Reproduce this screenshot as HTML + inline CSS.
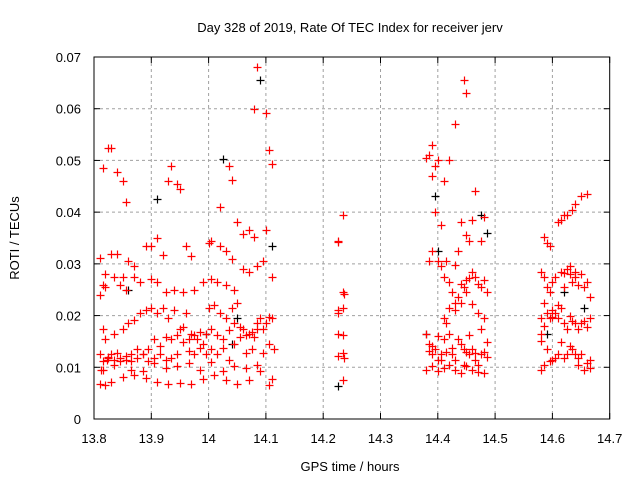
<!DOCTYPE html>
<html><head><meta charset="utf-8"><style>
html,body{margin:0;padding:0;background:#fff;}
svg{display:block;font-family:"Liberation Sans",sans-serif;}
</style></head><body>
<svg id="chart" width="640" height="480">
<text x="350" y="32" text-anchor="middle" font-size="13">Day 328 of 2019, Rate Of TEC Index for receiver jerv</text>
<text x="0" y="0" transform="translate(19,238) rotate(-90)" text-anchor="middle" font-size="13">ROTI / TECUs</text>
<text x="350" y="471" text-anchor="middle" font-size="13">GPS time / hours</text>
<g id="grid"></g><g id="ticks"></g><g id="marks"></g>
<rect x="94" y="57" width="515.7" height="362" fill="none" stroke="#000" stroke-width="1"/>
</svg>
<script>
const xTicks=[13.8,13.9,14,14.1,14.2,14.3,14.4,14.5,14.6,14.7];
const xTickLabels=["13.8","13.9","14","14.1","14.2","14.3","14.4","14.5","14.6","14.7"];
const yTicks=[0,0.01,0.02,0.03,0.04,0.05,0.06,0.07];
const yTickLabels=["0","0.01","0.02","0.03","0.04","0.05","0.06","0.07"];
// [time, roti] pairs
const cluster1High=[[13.815,0.0485],[13.825,0.0525],[13.83,0.0525],[13.84,0.0478],[13.85,0.046],[13.855,0.042],[13.93,0.046],[13.935,0.049],[13.945,0.0455],[13.95,0.0445],[14.02,0.041],[14.035,0.049],[14.04,0.0462],[14.08,0.060],[14.085,0.068],[14.1,0.0592],[14.105,0.052],[14.11,0.0493]];
const cluster1Mid=[[13.81,0.0312],[13.82,0.028],[13.83,0.032],[13.84,0.032],[13.85,0.0275],[13.86,0.0305],[13.87,0.0295],[13.89,0.0335],[13.9,0.0335],[13.91,0.035],[13.92,0.0318],[13.96,0.0335],[13.97,0.0315],[14,0.034],[14.005,0.0345],[14.02,0.0335],[14.03,0.0325],[14.04,0.031],[14.05,0.038],[14.06,0.0358],[14.07,0.0365],[14.08,0.0352],[14.1,0.0365],
[13.81,0.024],[13.815,0.026],[13.82,0.0255],[13.835,0.0275],[13.845,0.026],[13.855,0.025],[13.87,0.0275],[13.88,0.0265],[13.9,0.027],[13.91,0.0265],[13.925,0.0245],[13.94,0.025],[13.955,0.0245],[13.975,0.025],[13.99,0.0265],[14.005,0.027],[14.015,0.0265],[14.03,0.026],[14.045,0.025],[14.06,0.029],[14.07,0.0285],[14.085,0.0295],[14.095,0.0305],[14.11,0.0275]];
const cluster1Low=[[13.81,0.0125],[13.812,0.0095],[13.815,0.0175],[13.82,0.0155],[13.822,0.0115],[13.825,0.012],[13.83,0.0125],[13.835,0.0165],[13.84,0.0128],[13.845,0.0118],[13.85,0.0175],[13.855,0.0122],[13.86,0.0185],[13.865,0.0125],[13.87,0.0192],[13.875,0.0118],[13.88,0.0205],[13.885,0.0125],[13.89,0.021],[13.895,0.0135],[13.9,0.0215],[13.905,0.0118],[13.91,0.0205],[13.915,0.0142],[13.92,0.0215],[13.925,0.0115],[13.93,0.0195],[13.935,0.0155],[13.94,0.021],[13.945,0.0125],[13.95,0.0175],[13.955,0.0148],[13.96,0.0205],[13.965,0.0132],[13.97,0.0165],[13.975,0.0125],[13.98,0.0155],[13.985,0.0138],[13.99,0.0145],[13.995,0.0125],[14,0.0215],[14.005,0.0135],[14.01,0.022],[14.015,0.0125],[14.02,0.0205],[14.025,0.0138],[14.03,0.0195],[14.035,0.0115],[14.04,0.0215],[14.045,0.0145],[14.05,0.0225],[14.055,0.0158],[14.06,0.0175],[14.065,0.0128],[14.07,0.0165],[14.075,0.0135],[14.08,0.0158],[14.085,0.0175],[14.09,0.0195],[14.095,0.0128],[14.1,0.0185],[14.105,0.0145],[14.11,0.0195],[14.115,0.0135],
[13.815,0.0112],[13.825,0.0118],[13.835,0.0115],[13.845,0.0112],[13.855,0.0115],[13.865,0.0112],[13.875,0.0135],[13.885,0.0125],[13.895,0.0112],[13.905,0.0155],[13.915,0.0125],[13.925,0.0158],[13.935,0.0118],[13.945,0.0162],[13.955,0.0178],[13.965,0.0155],[13.975,0.0162],[13.985,0.0168],[13.995,0.0165],[14.005,0.0175],[14.015,0.0162],[14.025,0.0155],[14.035,0.0172],[14.045,0.0185],[14.055,0.0178],[14.065,0.0162],[14.075,0.0168],[14.085,0.0185],[14.095,0.0175],[14.105,0.0198],
[13.81,0.0068],[13.82,0.0065],[13.83,0.0072],[13.85,0.0082],[13.87,0.0085],[13.89,0.008],[13.91,0.0072],[13.93,0.0068],[13.95,0.007],[13.97,0.0068],[13.99,0.0078],[14.01,0.0085],[14.03,0.0075],[14.05,0.0068],[14.07,0.0075],[14.09,0.0092],[14.11,0.0078],
[13.815,0.0095],[13.835,0.0105],[13.865,0.0095],[13.885,0.0092],[13.905,0.0108],[13.925,0.0098],[13.945,0.0102],[13.965,0.0108],[13.985,0.0095],[14.005,0.011],[14.025,0.0092],[14.045,0.0102],[14.065,0.0098],[14.085,0.0105],[14.105,0.0065]];
const cluster2=[[14.225,0.0345],[14.226,0.0342],[14.235,0.0395],[14.235,0.0245],[14.237,0.0242],[14.225,0.021],[14.226,0.0205],[14.235,0.0215],[14.225,0.0165],[14.235,0.0162],[14.225,0.0122],[14.235,0.0128],[14.236,0.0118],[14.235,0.0075]];
const cluster3=[[14.39,0.053],[14.385,0.051],[14.38,0.0505],[14.395,0.049],[14.4,0.050],[14.41,0.046],[14.42,0.050],[14.43,0.057],[14.445,0.0655],[14.45,0.063],[14.39,0.047],[14.405,0.0375],[14.44,0.038],[14.465,0.044],[14.46,0.0385],[14.48,0.039],[14.395,0.040],[14.39,0.0325],[14.385,0.0305],[14.41,0.0275],[14.43,0.0298],[14.435,0.0325],[14.45,0.0355],[14.455,0.0345],[14.475,0.0345],
[14.4,0.0305],[14.405,0.0295],[14.415,0.0305],[14.42,0.0265],[14.425,0.0245],[14.43,0.0225],[14.435,0.0235],[14.44,0.0262],[14.445,0.0255],[14.45,0.0268],[14.455,0.0272],[14.46,0.0285],[14.465,0.0275],[14.47,0.0262],[14.475,0.0255],[14.48,0.0268],[14.485,0.0245],[14.41,0.0195],[14.415,0.0185],[14.42,0.0215],[14.43,0.021],[14.44,0.0225],[14.45,0.0245],[14.46,0.0222],[14.47,0.0205],[14.48,0.0195],
[14.38,0.0165],[14.385,0.0145],[14.39,0.0125],[14.395,0.0135],[14.4,0.016],[14.405,0.0115],[14.41,0.0155],[14.415,0.013],[14.42,0.0165],[14.425,0.0125],[14.43,0.0115],[14.435,0.0155],[14.44,0.0145],[14.445,0.0105],[14.45,0.013],[14.455,0.0125],[14.46,0.0135],[14.465,0.0115],[14.47,0.0105],[14.475,0.0125],[14.48,0.013],[14.485,0.012],
[14.38,0.0095],[14.39,0.0102],[14.4,0.0115],[14.41,0.0098],[14.42,0.0105],[14.43,0.0095],[14.44,0.0088],[14.45,0.0102],[14.46,0.0095],[14.47,0.009],[14.48,0.0088],[14.385,0.0132],[14.405,0.0125],[14.425,0.0138],[14.445,0.0135],[14.465,0.0128],[14.485,0.0148],[14.39,0.0142],[14.4,0.0092],[14.455,0.0162],[14.475,0.0175]];
const cluster4=[[14.585,0.0352],[14.59,0.034],[14.595,0.0335],[14.61,0.038],[14.615,0.0385],[14.62,0.0395],[14.625,0.0395],[14.635,0.0405],[14.64,0.0415],[14.65,0.0432],[14.66,0.0435],
[14.58,0.0285],[14.585,0.0275],[14.59,0.0255],[14.595,0.0245],[14.6,0.0265],[14.605,0.0275],[14.61,0.022],[14.615,0.0285],[14.62,0.0255],[14.625,0.029],[14.63,0.028],[14.635,0.0265],[14.64,0.0275],[14.645,0.026],[14.65,0.028],[14.655,0.0255],[14.66,0.0265],[14.665,0.0235],[14.62,0.0282],[14.63,0.0295],[14.64,0.0285],[14.585,0.0225],
[14.58,0.0195],[14.585,0.018],[14.59,0.0205],[14.595,0.0195],[14.6,0.021],[14.605,0.0205],[14.61,0.0195],[14.615,0.0215],[14.62,0.0185],[14.625,0.0175],[14.63,0.020],[14.635,0.019],[14.64,0.0185],[14.645,0.0175],[14.65,0.0185],[14.655,0.019],[14.66,0.0178],[14.665,0.0195],[14.58,0.0165],[14.58,0.015],[14.6,0.0198],
[14.58,0.0095],[14.59,0.0135],[14.6,0.0115],[14.61,0.0125],[14.62,0.0118],[14.63,0.0142],[14.64,0.0125],[14.65,0.0125],[14.66,0.0108],[14.585,0.0105],[14.615,0.0148],[14.645,0.0118],[14.665,0.0098],[14.595,0.0112],[14.605,0.0118],[14.625,0.0125],[14.635,0.0135],[14.655,0.0095],[14.665,0.0115],[14.645,0.0105]];
const blackPoints=[[13.91,0.0425],[14.025,0.0502],[14.09,0.0655],[14.11,0.0335],[13.86,0.025],[13.995,0.0165],[14.05,0.0195],[14.225,0.0063],[14.395,0.0432],[14.4,0.0325],[14.475,0.0395],[14.485,0.036],[14.62,0.0245],[14.59,0.0165],[14.655,0.0215],[14.38,0.0165],[14.04,0.0145]];

const L=94,R=609.7,T=57,B=419;
const xMin=13.8,xMax=14.7,yMin=0,yMax=0.07;
function sx(v){return L+(v-xMin)/(xMax-xMin)*(R-L);}
function sy(v){return B-(v-yMin)/(yMax-yMin)*(B-T);}
const NS='http://www.w3.org/2000/svg';
const grid=document.getElementById('grid'),ticks=document.getElementById('ticks'),marks=document.getElementById('marks');
function mk(tag,attrs,parent){const e=document.createElementNS(NS,tag);for(const k in attrs)e.setAttribute(k,attrs[k]);parent.appendChild(e);return e;}
xTicks.forEach((v,i)=>{
  const x=sx(v);
  if(i>0&&i<xTicks.length-1){
    const g=mk('line',{x1:x,x2:x,y1:T,y2:B,stroke:'#a0a0a0','stroke-dasharray':'3,3'},grid);
    
    
  }
  const t1=mk('line',{x1:x,x2:x,y1:B,y2:B-6,stroke:'#000'},ticks);
  
  
  const t2=mk('line',{x1:x,x2:x,y1:T,y2:T+6,stroke:'#000'},ticks);
  
  
  const lb=mk('text',{x:x,y:443,'text-anchor':'middle','font-size':'13'},ticks);
  lb.textContent=xTickLabels[i];
  
  
});
yTicks.forEach((v,i)=>{
  const y=sy(v);
  if(i>0&&i<yTicks.length-1){
    const g=mk('line',{x1:L,x2:R,y1:y,y2:y,stroke:'#a0a0a0','stroke-dasharray':'3,3'},grid);
    
    
  }
  const t1=mk('line',{x1:L,x2:L+6,y1:y,y2:y,stroke:'#000'},ticks);
  
  
  const t2=mk('line',{x1:R,x2:R-6,y1:y,y2:y,stroke:'#000'},ticks);
  
  
  const lb=mk('text',{x:81,y:y+5,'text-anchor':'end','font-size':'13'},ticks);
  lb.textContent=yTickLabels[i];
  
  
});
function cross(x,y,color,name){
  const p=mk('path',{d:`M${x-4},${y}H${x+4}M${x},${y-4}V${y+4}`,stroke:color,'stroke-width':'1.2',fill:'none'},marks);
  
  
}
blackPoints.forEach(p=>cross(Math.round(sx(p[0]))+0.5,Math.round(sy(p[1]))+0.5,'#000','roti-point-black'));
[cluster1High,cluster1Mid,cluster1Low,cluster2,cluster3,cluster4].forEach(arr=>{
  arr.forEach(p=>cross(Math.round(sx(p[0]))+0.5,Math.round(sy(p[1]))+0.5,'#ff0000','roti-point'));
});
</script>
</body></html>
